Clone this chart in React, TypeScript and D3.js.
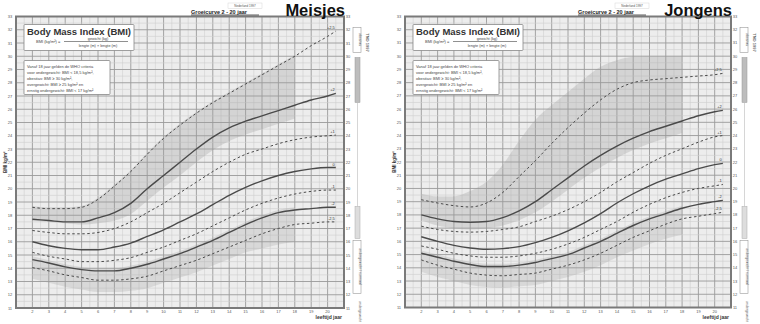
import * as d3 from 'd3';

const ages = [2, 3, 4, 5, 6, 7, 8, 9, 10, 11, 12, 13, 14, 15, 16, 17, 18, 19, 20, 20.5];
const bandAges = [2, 3, 4, 5, 6, 7, 8, 9, 10, 11, 12, 13, 14, 15, 16, 17, 18];

// Meisjes, top line to bottom line
const girls1 = [18.6, 18.5, 18.5, 18.6, 19.2, 20.2, 21.3, 22.6, 23.8, 24.8, 25.7, 26.5, 27.2, 27.9, 28.6, 29.3, 30.0, 30.8, 31.5, 31.9];
const girls2 = [17.7, 17.6, 17.5, 17.5, 17.8, 18.2, 18.9, 20.0, 21.0, 22.0, 23.0, 23.9, 24.6, 25.1, 25.5, 25.9, 26.3, 26.7, 27.0, 27.2];
const girls3 = [16.85, 16.7, 16.6, 16.6, 16.7, 17.0, 17.5, 18.2, 18.9, 19.7, 20.5, 21.3, 22.0, 22.6, 23.0, 23.4, 23.7, 23.9, 24.0, 24.05];
const girls4 = [16.0, 15.7, 15.5, 15.4, 15.4, 15.6, 15.9, 16.4, 16.9, 17.5, 18.1, 18.8, 19.5, 20.1, 20.6, 21.0, 21.3, 21.5, 21.6, 21.6];
const girls5 = [15.2, 14.9, 14.7, 14.5, 14.5, 14.6, 14.8, 15.2, 15.6, 16.1, 16.6, 17.2, 17.8, 18.4, 18.9, 19.3, 19.6, 19.8, 19.9, 19.9];
const girls6 = [14.65, 14.4, 14.1, 13.9, 13.8, 13.8, 14.0, 14.3, 14.7, 15.1, 15.6, 16.1, 16.7, 17.3, 17.8, 18.2, 18.4, 18.5, 18.6, 18.6];
const girls7 = [14.05, 13.8, 13.5, 13.3, 13.1, 13.1, 13.2, 13.4, 13.8, 14.2, 14.6, 15.1, 15.6, 16.1, 16.6, 17.0, 17.3, 17.4, 17.5, 17.5];

// Jongens
const boys1 = [19.15, 18.9, 18.7, 18.6, 18.9, 19.7, 20.9, 22.1, 23.4, 24.6, 25.7, 26.7, 27.5, 28.0, 28.2, 28.3, 28.4, 28.5, 28.6, 28.7];
const boys2 = [18.0, 17.7, 17.5, 17.45, 17.5, 17.8, 18.3, 19.0, 19.9, 20.8, 21.7, 22.5, 23.2, 23.8, 24.3, 24.7, 25.1, 25.5, 25.8, 25.9];
const boys3 = [17.15, 16.9, 16.75, 16.7, 16.75, 16.9, 17.1, 17.5, 17.9, 18.4, 19.0, 19.7, 20.5, 21.2, 21.9, 22.5, 23.0, 23.5, 23.9, 24.0];
const boys4 = [16.35, 16.0, 15.7, 15.5, 15.4, 15.45, 15.6, 15.9, 16.3, 16.8, 17.4, 18.1, 18.9, 19.6, 20.2, 20.7, 21.1, 21.5, 21.8, 21.9];
const boys5 = [15.65, 15.4, 15.1, 14.9, 14.8, 14.8, 14.9, 15.1, 15.4, 15.8, 16.3, 16.9, 17.5, 18.2, 18.8, 19.3, 19.7, 20.0, 20.2, 20.3];
const boys6 = [15.1, 14.8, 14.5, 14.25, 14.1, 14.1, 14.2, 14.4, 14.7, 15.0, 15.5, 16.0, 16.6, 17.2, 17.7, 18.1, 18.5, 18.8, 19.0, 19.1];
const boys7 = [14.6, 14.2, 13.9, 13.6, 13.45, 13.4, 13.5, 13.6, 13.9, 14.2, 14.6, 15.1, 15.7, 16.3, 16.8, 17.3, 17.7, 17.9, 18.1, 18.2];

// shaded zones (2 - 18 jaar)
const girlsUpperTop = [18.7, 18.6, 18.6, 18.7, 19.3, 20.3, 21.4, 22.7, 23.9, 24.9, 25.8, 26.6, 27.3, 28.0, 28.7, 29.4, 30.1];
const girlsUpperBottom = [17.6, 17.5, 17.4, 17.3, 17.4, 17.6, 18.1, 19.1, 20.1, 21.0, 22.0, 22.9, 23.6, 24.1, 24.5, 24.9, 25.3];
const girlsLowerTop = [14.9, 14.6, 14.3, 14.1, 14.0, 14.0, 14.2, 14.5, 14.9, 15.3, 15.8, 16.3, 16.9, 17.5, 18.0, 18.4, 18.6];
const girlsLowerBottom = [13.2, 12.9, 12.6, 12.4, 12.2, 12.2, 12.3, 12.5, 12.9, 13.3, 13.7, 14.2, 14.7, 15.2, 15.5, 15.8, 16.0];
const boysUpperTop = [19.6, 19.4, 19.4, 19.8, 20.5, 21.8, 23.6, 25.2, 26.3, 27.3, 28.3, 29.2, 29.7, 29.95, 30.0, 30.0, 30.0];
const boysUpperBottom = [17.6, 17.2, 17.0, 16.9, 17.0, 17.2, 17.6, 18.2, 19.0, 19.9, 20.8, 21.6, 22.3, 22.9, 23.4, 23.8, 24.2];
const boysLowerTop = [15.3, 15.0, 14.7, 14.45, 14.3, 14.3, 14.4, 14.6, 14.9, 15.2, 15.7, 16.2, 16.8, 17.4, 17.9, 18.3, 18.7];
const boysLowerBottom = [13.7, 13.3, 13.0, 12.7, 12.55, 12.5, 12.6, 12.7, 13.0, 13.3, 13.7, 14.2, 14.8, 15.3, 15.8, 16.2, 16.5];

const lineLabels = ['+2,5', '+2', '+1', '0', '-1', '-2', '-2,5'];
const yTicks = d3.range(11, 34);
const xTicks = d3.range(2, 21);

const infoLines = [
  'Vanaf 18 jaar gelden de WHO criteria',
  'voor ondergewicht: BMI < 18,5 kg/m²,',
  'obesitas: BMI ≥ 30 kg/m²,',
  'overgewicht: BMI ≥ 25 kg/m² en',
  'ernstig ondergewicht: BMI < 17 kg/m²',
];

const FONT = 'Liberation Sans, Arial, sans-serif';

interface PanelProps {
  left: number;
  right: number;
  top: number;
  bottom: number;
  title: string;
  lines: number[][];
  upperTop: number[];
  upperBottom: number[];
  lowerTop: number[];
  lowerBottom: number[];
}

function Panel({ left, right, top, bottom, title, lines, upperTop, upperBottom, lowerTop, lowerBottom }: PanelProps) {
  const x = d3.scaleLinear().domain([1, 21]).range([left, right]);
  const y = d3.scaleLinear().domain([11, 33]).range([bottom, top]);

  const line = d3.line<number>()
    .x((_, i) => x(ages[i]))
    .y(d => y(d))
    .curve(d3.curveMonotoneX);

  const band = (hi: number[], lo: number[]) =>
    d3.area<number>()
      .x((_, i) => x(bandAges[i]))
      .y0((_, i) => y(lo[i]))
      .y1(d => y(d))
      .curve(d3.curveMonotoneX)(hi) || '';

  const minorX = d3.range(1, 21.01, 0.5);
  const minorY = d3.range(11, 33.01, 0.5);
  const sx = right + 9;

  return (
    <g>
      <rect x={left} y={top} width={right - left} height={bottom - top} fill="#ededed" />
      {minorX.map(v => (
        <line key={'mx' + v} x1={x(v)} x2={x(v)} y1={top} y2={bottom}
          stroke={Number.isInteger(v) ? '#9a9a9a' : '#cfcfcf'} strokeWidth={Number.isInteger(v) ? 0.9 : 0.6} />
      ))}
      {minorY.map(v => (
        <line key={'my' + v} x1={left} x2={right} y1={y(v)} y2={y(v)}
          stroke={Number.isInteger(v) ? '#9a9a9a' : '#cfcfcf'} strokeWidth={Number.isInteger(v) ? 0.9 : 0.6} />
      ))}

      <path d={band(upperTop, upperBottom)} fill="#9a9a9a" fillOpacity={0.3} />
      <path d={band(lowerTop, lowerBottom)} fill="#9a9a9a" fillOpacity={0.25} />

      {lines.map((vals, i) => (
        <g key={'l' + i}>
          <path d={line(vals) || ''} fill="none" stroke="#4a4a4a"
            strokeWidth={i % 2 === 0 ? 1 : 1.4}
            strokeDasharray={i % 2 === 0 ? '2.5,2.5' : undefined} />
          <text x={x(ages[ages.length - 1]) - 1} y={y(vals[vals.length - 1]) - 2}
            fontSize={4} fontFamily={FONT} fill="#333" textAnchor="end">{lineLabels[i]}</text>
        </g>
      ))}

      <rect x={left} y={top} width={right - left} height={bottom - top} fill="none" stroke="#7a7a7a" strokeWidth={2} />

      {yTicks.map(v => (
        <g key={'yt' + v}>
          <text x={left - 6} y={y(v) + 1.5} fontSize={4} fontFamily={FONT} fill="#555" textAnchor="middle">{v}</text>
          <text x={right + 4} y={y(v) + 1.5} fontSize={4} fontFamily={FONT} fill="#555" textAnchor="middle">{v}</text>
        </g>
      ))}
      {xTicks.map(v => (
        <text key={'xt' + v} x={x(v)} y={bottom + 5} fontSize={4} fontFamily={FONT} fill="#555" textAnchor="middle">{v}</text>
      ))}
      <text x={right - 2} y={bottom + 11} fontSize={5} fontWeight="bold" fontFamily={FONT} fill="#333" textAnchor="end">leeftijd jaar</text>
      <text transform={`translate(${left - 9},${y(22)}) rotate(-90)`} fontSize={4.5} fontWeight="bold"
        fontFamily={FONT} fill="#333" textAnchor="middle">BMI kg/m²</text>

      {/* title */}
      <text x={right + 1} y={top - 1} fontSize={16.5} fontWeight="bold" fontFamily={FONT} fill="#111" textAnchor="end">{title}</text>
      <text x={right - 153} y={top - 3} fontSize={5.5} fontWeight="bold" fontFamily={FONT} fill="#222">Groeicurve 2 - 20 jaar</text>
      <line x1={right - 153} x2={right - 85} y1={top - 1.5} y2={top - 1.5} stroke="#333" strokeWidth={0.8} />
      <rect x={right - 116} y={top - 13.5} width={34} height={5.5} fill="#fff" stroke="#ccc" strokeWidth={0.4} />
      <text x={right - 99} y={top - 9.6} fontSize={3} fontFamily={FONT} fill="#555" textAnchor="middle">Nederland 1997</text>

      {/* BMI formula box */}
      <rect x={left + 8} y={top + 8} width={110} height={26} fill="#fff" stroke="#888" strokeWidth={0.8} rx={1} />
      <text x={left + 63} y={top + 18} fontSize={9.5} fontWeight="bold" fontFamily={FONT} fill="#333" textAnchor="middle">Body Mass Index (BMI)</text>
      <text x={left + 20} y={top + 26} fontSize={4} fontFamily={FONT} fill="#444">BMI (kg/m²) =</text>
      <line x1={left + 48} x2={left + 112} y1={top + 25} y2={top + 25} stroke="#444" strokeWidth={0.6} />
      <text x={left + 82} y={top + 23} fontSize={3.8} fontFamily={FONT} fill="#444" textAnchor="middle">gewicht (kg)</text>
      <text x={left + 82} y={top + 30} fontSize={3.8} fontFamily={FONT} fill="#444" textAnchor="middle">lengte (m) × lengte (m)</text>

      {/* criteria box */}
      <rect x={left + 8} y={top + 44} width={86} height={34} fill="#fff" stroke="#888" strokeWidth={0.8} rx={1} />
      {infoLines.map((t, i) => (
        <text key={'il' + i} x={left + 11} y={top + 51 + i * 6} fontSize={4} fontFamily={FONT} fill="#444">{t}</text>
      ))}

      {/* side strip */}
      <rect x={sx} y={top + 11} width={8} height={25} fill="#fff" stroke="#999" strokeWidth={0.6} />
      <text transform={`translate(${sx + 5.5},${top + 23}) rotate(90)`} fontSize={3.5} fontFamily={FONT} fill="#555" textAnchor="middle">obesitas</text>
      <rect x={sx + 2} y={top + 41} width={5} height={45} fill="#bdbdbd" stroke="#999" strokeWidth={0.5} />
      <line x1={sx + 4.5} x2={sx + 4.5} y1={top + 86} y2={top + 190} stroke="#bbb" strokeWidth={0.6} />
      <rect x={sx + 2} y={top + 190} width={5} height={32} fill="#ddd" stroke="#aaa" strokeWidth={0.5} />
      <rect x={sx} y={top + 224} width={8} height={53} fill="#fff" stroke="#999" strokeWidth={0.6} />
      <text transform={`translate(${sx + 5.5},${top + 250}) rotate(90)`} fontSize={3.5} fontFamily={FONT} fill="#555" textAnchor="middle">ondergewicht / normaal</text>
      <text transform={`translate(${sx + 5.5},${top + 295}) rotate(90)`} fontSize={3.5} fontFamily={FONT} fill="#555" textAnchor="middle">ondergewicht</text>
      <text transform={`translate(${sx + 13},${top + 26}) rotate(90)`} fontSize={4} fontWeight="bold" fontFamily={FONT} fill="#666" textAnchor="middle">TNO  1997</text>
    </g>
  );
}

export default function App() {
  return (
    <svg width={760} height={324} style={{ position: 'absolute', left: 0, top: 0, background: '#fff' }}>
      <rect width={760} height={324} fill="#fff" />
      <Panel left={16} right={344} top={16.5} bottom={308} title="Meisjes"
        lines={[girls1, girls2, girls3, girls4, girls5, girls6, girls7]}
        upperTop={girlsUpperTop} upperBottom={girlsUpperBottom}
        lowerTop={girlsLowerTop} lowerBottom={girlsLowerBottom} />
      <Panel left={405} right={731} top={16.5} bottom={307.5} title="Jongens"
        lines={[boys1, boys2, boys3, boys4, boys5, boys6, boys7]}
        upperTop={boysUpperTop} upperBottom={boysUpperBottom}
        lowerTop={boysLowerTop} lowerBottom={boysLowerBottom} />
    </svg>
  );
}
